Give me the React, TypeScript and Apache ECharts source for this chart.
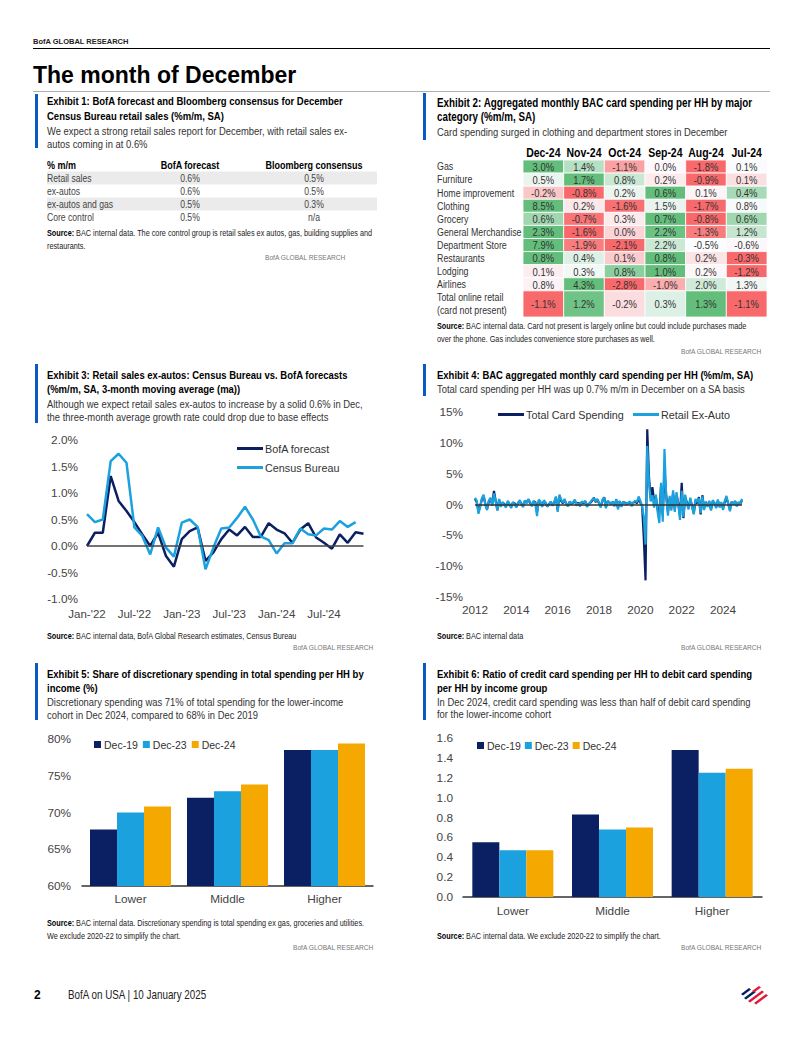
import React, { useEffect, useRef } from 'react';
import * as echarts from 'echarts';

const SANS = '"Liberation Sans", Arial, sans-serif';
const NAVY = '#0b2062';
const CYAN = '#1ba1de';
const AMBER = '#f5a800';
const ACCENT = '#0a5ac2';
const NARROW_SCALE = 0.82;

// ---------- Exhibit 1 ----------
const ex1Header = ['% m/m', 'BofA forecast', 'Bloomberg consensus'];
const ex1Rows = ['Retail sales', 'ex-autos', 'ex-autos and gas', 'Core control'];
const ex1Bofa = ['0.6%', '0.6%', '0.5%', '0.5%'];
const ex1Bloomberg = ['0.5%', '0.5%', '0.3%', 'n/a'];

// ---------- Exhibit 2 ----------
const heatCols = ['Dec-24', 'Nov-24', 'Oct-24', 'Sep-24', 'Aug-24', 'Jul-24'];
const heatRows = ['Gas', 'Furniture', 'Home improvement', 'Clothing', 'Grocery', 'General Merchandise',
  'Department Store', 'Restaurants', 'Lodging', 'Airlines', 'Total online retail'];
const heatRowLabels = ['Gas', 'Furniture', 'Home improvement', 'Clothing', 'Grocery', 'General Merchandise',
  'Department Store', 'Restaurants', 'Lodging', 'Airlines', 'Total online retail', '(card not present)'];
const heatValues = [
  [3.0, 1.4, -1.1, 0.0, -1.8, 0.1],
  [0.5, 1.7, 0.8, 0.2, -0.9, 0.1],
  [-0.2, -0.8, 0.2, 0.6, 0.1, 0.4],
  [8.5, 0.2, -1.6, 1.5, -1.7, 0.8],
  [0.6, -0.7, 0.3, 0.7, -0.8, 0.6],
  [2.3, -1.6, 0.0, 2.2, -1.3, 1.2],
  [7.9, -1.9, -2.1, 2.2, -0.5, -0.6],
  [0.8, 0.4, 0.1, 0.8, 0.2, -0.3],
  [0.1, 0.3, 0.8, 1.0, 0.2, -1.2],
  [0.8, 4.3, -2.8, -1.0, 2.0, 1.3],
  [-1.1, 1.2, -0.2, 0.3, 1.3, -1.1],
];

// ---------- Exhibit 3 ----------
const ex3MonthNames = ['Jan', 'Feb', 'Mar', 'Apr', 'May', 'Jun', 'Jul', 'Aug', 'Sep', 'Oct', 'Nov', 'Dec'];
const ex3Years = ['22', '23', '24'];
const ex3Months: string[] = [];
ex3Years.forEach((y) => ex3MonthNames.forEach((m) => ex3Months.push(m + "-'" + y)));
const bofaForecast = [0.0, 0.25, 0.25, 1.32, 0.85, 0.66, 0.45, 0.22, 0.0, 0.25, -0.19, -0.39,
  0.13, 0.28, 0.35, -0.28, -0.12, 0.13, 0.31, 0.2, 0.36, 0.17, 0.17, 0.43,
  0.31, 0.24, 0.06, 0.31, 0.43, 0.16, 0.06, -0.05, 0.22, 0.06, 0.26, 0.23];
const censusBureau = [0.6, 0.45, 0.5, 1.6, 1.74, 1.57, 0.35, 0.19, -0.16, 0.35, -0.03, -0.2,
  0.44, 0.5, 0.36, -0.44, -0.03, 0.33, 0.35, 0.53, 0.74, 0.5, 0.18, 0.11,
  -0.14, 0.05, 0.05, 0.33, 0.22, 0.2, 0.33, 0.31, 0.47, 0.36, 0.45];

// ---------- Exhibit 4 ----------
const ex4Months: string[] = [];
for (let y = 2012; y <= 2024; y++) for (let m = 1; m <= 12; m++) ex4Months.push(y + '-' + (m < 10 ? '0' + m : m));
const totalCard = [
  0.9, 0.4, -1.1, -0.2, 0.8, 1.4, 0.1, -0.7, 0.4, 1.0, 0.0, 2.2,
  0.6, -0.9, 0.7, -0.2, 0.3, 0.1, -0.3, 0.4, 0.0, -0.4, 0.3, 0.2,
  -0.3, 0.2, 0.5, 0.1, -0.2, 0.6, 0.3, 0.8, 0.2, -0.1, 0.5, 0.4,
  -1.2, 0.6, 0.3, -0.2, 0.5, 0.2, -0.3, 0.1, 0.4, -0.1, 0.3, 1.1,
  -0.9, 1.4, 0.6, 0.2, 0.7, 0.1, -0.2, 0.4, 0.1, 0.3, 0.6, -0.1,
  0.3, -0.1, 0.4, 0.2, 0.5, -0.2, 0.1, 0.3, 0.6, 1.1, 0.4, 0.8,
  0.2, -0.3, 0.6, 1.2, -0.4, 0.5, 0.3, 0.1, 0.4, -0.2, 0.7, -0.5,
  0.5, -0.2, 0.4, 0.3, 0.1, 0.2, 0.4, -0.1, 0.3, 0.5, 0.2, 1.0,
  0.3, -0.2, -5.5, -12.3, 12.2, 4.5, 1.0, 2.8, 0.5, 1.2, -0.8, -1.5,
  3.0, -1.8, 5.5, 1.5, -1.2, 1.0, -0.5, 1.8, -0.8, 1.5, 0.2, -1.8,
  3.5, -2.2, 1.2, 0.3, -0.5, 0.8, -0.2, -1.4, 0.6, 0.2, 1.2, -1.6,
  1.5, -0.6, 0.3, -0.2, 0.4, -0.8, 0.5, 0.2, -0.4, 0.6, -0.3, 0.2,
  -0.6, 0.4, 1.0, 0.2, -0.8, 0.4, 0.1, 0.5, -0.2, 0.3, 0.1, 0.7,
];
const retailExAuto = [
  1.1, 0.6, -1.5, -0.4, 1.0, 1.6, -0.1, -0.9, 0.6, 1.1, -0.2, 1.8,
  0.5, -1.0, 0.9, -0.4, 0.4, -0.1, -0.5, 0.6, 0.1, -0.6, 0.4, 0.0,
  -0.5, 0.3, 0.7, -0.1, -0.4, 0.7, 0.2, 0.9, 0.4, -0.3, 0.6, 0.2,
  -1.9, 0.8, 0.5, -0.4, 0.7, 0.3, -0.4, 0.0, 0.5, -0.2, 0.4, 1.3,
  -1.2, 1.6, 0.8, 0.3, 0.9, 0.0, -0.3, 0.5, 0.2, 0.4, 0.8, -0.2,
  0.2, -0.3, 0.5, 0.3, 0.6, -0.4, 0.0, 0.4, 0.8, 1.0, 0.5, 0.9,
  0.3, -0.5, 0.8, 1.1, -0.6, 0.6, 0.4, 0.0, 0.5, -0.3, 0.9, -0.8,
  0.6, -0.4, 0.5, 0.2, 0.0, 0.3, 0.5, -0.3, 0.4, 0.6, 0.4, 1.3,
  0.6, -0.3, -2.0, -6.5, 9.5, 3.5, 0.5, 1.5, -0.5, 1.6, -1.2, -3.0,
  3.5, -2.8, 9.0, 1.2, -1.8, 1.4, -1.0, 2.3, -1.2, 2.0, 0.0, -2.5,
  2.2, -2.0, 1.6, 0.1, -0.8, 1.1, -0.4, -1.6, 0.9, 0.4, 1.0, -1.4,
  1.3, -0.9, 0.5, -0.4, 0.6, -1.0, 0.7, 0.3, -0.6, 0.8, -0.5, 0.4,
  -0.9, 0.6, 1.4, 0.1, -1.1, 0.5, 0.0, 0.6, -0.3, 0.4, 0.2, 0.9,
];

// ---------- Exhibits 5 & 6 ----------
const incomeGroups = ['Lower', 'Middle', 'Higher'];
const periods = ['Dec-19', 'Dec-23', 'Dec-24'];
const discShare = [
  [67.7, 72.0, 78.5],
  [70.0, 72.9, 78.5],
  [70.8, 73.8, 79.4],
];
const creditDebitRatio = [
  [0.55, 0.83, 1.48],
  [0.47, 0.68, 1.25],
  [0.47, 0.70, 1.29],
];
const barColors = [NAVY, CYAN, AMBER];

// ---------- helpers ----------
function rowScores(vals: number[]) {
  const s = [...vals].sort((a, b) => a - b);
  const n = s.length;
  const med = n % 2 ? s[(n - 1) / 2] : (s[n / 2 - 1] + s[n / 2]) / 2;
  const mn = s[0], mx = s[n - 1];
  return vals.map((v) => (v >= med ? (mx > med ? (v - med) / (mx - med) : 0) : -(med - v) / (med - mn)));
}

let gid = 0;
function txt(text: string, x: number, y: number, o: any = {}) {
  gid += 1;
  return {
    type: 'text', id: 't' + gid, x, y, silent: true,
    scaleX: o.sx !== undefined ? o.sx : NARROW_SCALE,
    style: {
      text,
      fill: o.fill || '#222',
      fontFamily: SANS,
      fontSize: o.size || 11,
      fontWeight: o.weight || 'normal',
      align: o.align || 'left',
      verticalAlign: 'middle',
    },
  };
}

function sourceTxt(text: string, x: number, y: number) {
  gid += 1;
  return {
    type: 'text', id: 's' + gid, x, y, silent: true, scaleX: NARROW_SCALE,
    style: {
      text,
      fill: '#222',
      fontFamily: SANS,
      fontSize: 8.9,
      verticalAlign: 'middle',
      rich: { b: { fontWeight: 'bold', fontFamily: SANS, fontSize: 8.9, fill: '#000' } },
    },
  };
}

function brand(xLeft: number, y: number) {
  return txt('BofA GLOBAL RESEARCH', xLeft, y, { size: 6.6, fill: '#777', align: 'left', sx: 1 });
}

function accent(x: number, y: number, h: number) {
  return { type: 'rect', silent: true, shape: { x, y, width: 3, height: h }, style: { fill: ACCENT } };
}

function buildGraphics() {
  const g: any[] = [];
  // header
  g.push(txt('BofA GLOBAL RESEARCH', 33, 41, { size: 7.5, weight: 'bold', fill: '#222', sx: 1 }));
  g.push({ type: 'line', silent: true, shape: { x1: 33, y1: 48.5, x2: 770, y2: 48.5 }, style: { stroke: '#000', lineWidth: 1 } });
  g.push(txt('The month of December', 33, 75, { size: 23, weight: 'bold', fill: '#000', sx: 1 }));
  g.push({ type: 'line', silent: true, shape: { x1: 33, y1: 91.5, x2: 770, y2: 91.5 }, style: { stroke: '#b0b0b0', lineWidth: 1 } });

  const T = { size: 11.6, weight: 'bold', fill: '#000' };
  const S = { size: 11.5, fill: '#333' };

  // Exhibit 1
  g.push(accent(35, 94, 54));
  g.push(txt('Exhibit 1: BofA forecast and Bloomberg consensus for December', 47, 101, T));
  g.push(txt('Census Bureau retail sales (%m/m, SA)', 47, 115.5, T));
  g.push(txt('We expect a strong retail sales report for December, with retail sales ex-', 47, 130.5, S));
  g.push(txt('autos coming in at 0.6%', 47, 144, S));
  const colX = [47, 190, 314];
  ex1Rows.forEach((r, i) => {
    const y = 178 + i * 13;
    if (i % 2 === 0) g.push({ type: 'rect', silent: true, shape: { x: 47, y: y - 6.5, width: 330, height: 13 }, style: { fill: '#ebebeb' } });
  });
  g.push(txt(ex1Header[0], colX[0], 165, { size: 11, weight: 'bold', fill: '#000' }));
  g.push(txt(ex1Header[1], colX[1], 165, { size: 11, weight: 'bold', fill: '#000', align: 'center' }));
  g.push(txt(ex1Header[2], colX[2], 165, { size: 11, weight: 'bold', fill: '#000', align: 'center' }));
  ex1Rows.forEach((r, i) => {
    const y = 178 + i * 13;
    g.push(txt(r, colX[0], y, { size: 10.5, fill: '#444' }));
    g.push(txt(ex1Bofa[i], colX[1], y, { size: 10.5, fill: '#444', align: 'center' }));
    g.push(txt(ex1Bloomberg[i], colX[2], y, { size: 10.5, fill: '#444', align: 'center' }));
  });
  g.push(sourceTxt('{b|Source:} BAC internal data. The core control group is retail sales ex autos, gas, building supplies and', 47, 233.5));
  g.push(sourceTxt('restaurants.', 47, 246));
  g.push(brand(265, 257.5));

  // Exhibit 2
  g.push(accent(423, 93, 47));
  g.push(txt('Exhibit 2: Aggregated monthly BAC card spending per HH by major', 437, 103, { ...T, size: 12 }));
  g.push(txt('category (%m/m, SA)', 437, 117, { ...T, size: 12 }));
  g.push(txt('Card spending surged in clothing and department stores in December', 437, 131.5, S));
  g.push(sourceTxt('{b|Source:} BAC internal data. Card not present is largely online but could include purchases made', 437, 326.5));
  g.push(sourceTxt('over the phone. Gas includes convenience store purchases as well.', 437, 339));
  g.push(brand(681, 351));

  // Exhibit 3
  g.push(accent(35, 364, 59));
  g.push(txt('Exhibit 3: Retail sales ex-autos: Census Bureau vs. BofA forecasts', 47, 375, T));
  g.push(txt('(%m/m, SA, 3-month moving average (ma))', 47, 389, T));
  g.push(txt('Although we expect retail sales ex-autos to increase by a solid 0.6% in Dec,', 47, 403.5, S));
  g.push(txt('the three-month average growth rate could drop due to base effects', 47, 417, S));
  g.push(sourceTxt('{b|Source:} BAC internal data, BofA Global Research estimates, Census Bureau', 47, 636.5));
  g.push(brand(293, 647.5));

  // Exhibit 4
  g.push(accent(423, 364, 32));
  g.push(txt('Exhibit 4: BAC aggregated monthly card spending per HH (%m/m, SA)', 437, 375, T));
  g.push(txt('Total card spending per HH was up 0.7% m/m in December on a SA basis', 437, 389, S));
  g.push(sourceTxt('{b|Source:} BAC internal data', 437, 636.5));
  g.push(brand(681, 647.5));

  // Exhibit 5
  g.push(accent(35, 663, 57));
  g.push(txt('Exhibit 5: Share of discretionary spending in total spending per HH by', 47, 674, T));
  g.push(txt('income (%)', 47, 688, T));
  g.push(txt('Discretionary spending was 71% of total spending for the lower-income', 47, 702, S));
  g.push(txt('cohort in Dec 2024, compared to 68% in Dec 2019', 47, 714.5, S));
  g.push(sourceTxt('{b|Source:} BAC internal data. Discretionary spending is total spending ex gas, groceries and utilities.', 47, 923.5));
  g.push(sourceTxt('We exclude 2020-22 to simplify the chart.', 47, 936));
  g.push(brand(293, 947));

  // Exhibit 6
  g.push(accent(423, 663, 57));
  g.push(txt('Exhibit 6: Ratio of credit card spending per HH to debit card spending', 437, 673.5, T));
  g.push(txt('per HH by income group', 437, 687.5, T));
  g.push(txt('In Dec 2024, credit card spending was less than half of debit card spending', 437, 701.5, S));
  g.push(txt('for the lower-income cohort', 437, 714, S));
  g.push(sourceTxt('{b|Source:} BAC internal data. We exclude 2020-22 to simplify the chart.', 437, 936));
  g.push(brand(681, 947));

  // footer
  g.push(txt('2', 34, 995, { size: 12, weight: 'bold', fill: '#000', sx: 1 }));
  g.push(txt('BofA on USA | 10 January 2025', 68, 995, { size: 12, fill: '#222' }));
  const navyStripes = [
    [[741, 994], [749, 988], [751, 989.5], [743, 995.5]],
    [[744, 998], [754, 990.5], [756, 992], [746, 999.5]],
  ];
  const redStripes = [
    [[752, 991], [759, 986], [761, 987.5], [754, 992.5]],
    [[748, 1001], [762, 990.5], [764, 992], [750, 1002.5]],
    [[754, 1003], [766, 994], [768, 995.5], [756, 1004.5]],
  ];
  navyStripes.forEach((p) => g.push({ type: 'polygon', silent: true, shape: { points: p }, style: { fill: '#012169' } }));
  redStripes.forEach((p) => g.push({ type: 'polygon', silent: true, shape: { points: p }, style: { fill: '#e31837' } }));
  return g;
}

const axisText = { fontFamily: SANS, fontSize: 11.8, color: '#444' };

function buildOption() {
  const heatData: any[] = [];
  heatValues.forEach((row, ri) => {
    const sc = rowScores(row);
    row.forEach((v, ci) => heatData.push([ci, ri, ri === heatRows.length - 1 ? 2 : 1, v, sc[ci]]));
  });

  const grids = [
    { left: 523, top: 160, width: 244, height: 157 },
    { left: 87, top: 440, width: 276.5, height: 159 },
    { left: 475, top: 412, width: 267, height: 185 },
    { left: 82, top: 739, width: 291, height: 147 },
    { left: 463, top: 738, width: 299, height: 159 },
  ];

  const xAxis = [
    {
      gridIndex: 0, type: 'category', position: 'top', data: heatCols,
      axisLine: { show: false }, axisTick: { show: false }, axisLabel: { show: false },
    },
    {
      gridIndex: 1, type: 'category', data: ex3Months, boundaryGap: false,
      axisLine: { show: false, onZero: false }, axisTick: { show: false },
      axisLabel: { ...axisText, fontSize: 11.5, interval: 5, margin: 9 },
    },
    {
      gridIndex: 2, type: 'category', data: ex4Months, boundaryGap: false,
      axisLine: { show: false, onZero: false }, axisTick: { show: false },
      axisLabel: { ...axisText, interval: (i: number) => i % 24 === 0, formatter: (v: string) => v.slice(0, 4), margin: 7 },
    },
    {
      gridIndex: 3, type: 'category', data: incomeGroups,
      axisLine: { show: true, lineStyle: { color: '#333', width: 1.5 } }, axisTick: { show: false },
      axisLabel: { ...axisText, margin: 7 },
    },
    {
      gridIndex: 4, type: 'category', data: incomeGroups,
      axisLine: { show: true, lineStyle: { color: '#333', width: 1.5 } }, axisTick: { show: false },
      axisLabel: { ...axisText, margin: 8 },
    },
  ];

  const yAxis = [
    {
      gridIndex: 0, type: 'category', data: heatRowLabels, inverse: true,
      axisLine: { show: false }, axisTick: { show: false }, axisLabel: { show: false },
    },
    {
      gridIndex: 1, type: 'value', min: -1, max: 2, interval: 0.5,
      splitLine: { show: false }, axisLine: { show: false }, axisTick: { show: false },
      axisLabel: { ...axisText, margin: 9, formatter: (v: number) => v.toFixed(1) + '%' },
    },
    {
      gridIndex: 2, type: 'value', min: -15, max: 15, interval: 5,
      splitLine: { show: false }, axisLine: { show: false }, axisTick: { show: false },
      axisLabel: { ...axisText, margin: 12, formatter: (v: number) => v + '%' },
    },
    {
      gridIndex: 3, type: 'value', min: 60, max: 80, interval: 5,
      splitLine: { show: false }, axisLine: { show: false }, axisTick: { show: false },
      axisLabel: { ...axisText, margin: 11, formatter: (v: number) => v + '%' },
    },
    {
      gridIndex: 4, type: 'value', min: 0, max: 1.6, interval: 0.2,
      splitLine: { show: false }, axisLine: { show: false }, axisTick: { show: false },
      axisLabel: { ...axisText, margin: 10, formatter: (v: number) => v.toFixed(1) },
    },
  ];

  const zeroLine = (color: string) => ({
    silent: true, symbol: 'none', label: { show: false },
    lineStyle: { color, width: 1.5, type: 'solid' },
    data: [{ yAxis: 0 }],
  });

  const series: any[] = [
    {
      type: 'custom', name: 'heat', coordinateSystem: 'cartesian2d', xAxisIndex: 0, yAxisIndex: 0,
      encode: { x: 0, y: 1 },
      data: heatData,
      clip: false,
      renderItem: (params: any, api: any) => {
        const ci = api.value(0), ri = api.value(1), span = api.value(2), v = api.value(3);
        const c = api.coord([ci, ri]);
        const sz = api.size([1, 1]);
        const w = sz[0], h = sz[1];
        const x0 = c[0] - w / 2, y0 = c[1] - h / 2;
        const children: any[] = [
          { type: 'rect', shape: { x: x0, y: y0, width: w, height: h * span }, style: { fill: api.visual('color'), stroke: '#fff', lineWidth: 0.8 } },
          {
            type: 'text', x: c[0], y: y0 + (h * span) / 2, scaleX: NARROW_SCALE,
            style: { text: v.toFixed(1) + '%', align: 'center', verticalAlign: 'middle', fontFamily: SANS, fontSize: 11.5, fill: '#333' },
          },
        ];
        if (ri === 0) {
          children.push({
            type: 'text', x: c[0], y: y0 - 7.5, scaleX: NARROW_SCALE,
            style: { text: heatCols[ci], align: 'center', verticalAlign: 'middle', fontFamily: SANS, fontSize: 12.8, fontWeight: 'bold', fill: '#000' },
          });
        }
        if (ci === 0) {
          const lx = params.coordSys.x - 86;
          for (let k = 0; k < span; k++) {
            children.push({
              type: 'text', x: lx, y: api.coord([0, ri + k])[1], scaleX: NARROW_SCALE,
              style: { text: heatRowLabels[ri + k], align: 'left', verticalAlign: 'middle', fontFamily: SANS, fontSize: 10.8, fill: '#333' },
            });
          }
        }
        return { type: 'group', children };
      },
    },
    {
      type: 'line', name: 'BofA forecast', xAxisIndex: 1, yAxisIndex: 1, data: bofaForecast,
      symbol: 'none', lineStyle: { color: NAVY, width: 2.5 }, itemStyle: { color: NAVY },
      markLine: zeroLine('#444'),
    },
    {
      type: 'line', name: 'Census Bureau', xAxisIndex: 1, yAxisIndex: 1, data: censusBureau,
      symbol: 'none', lineStyle: { color: CYAN, width: 2.5 }, itemStyle: { color: CYAN },
    },
    {
      type: 'line', name: 'Total Card Spending', xAxisIndex: 2, yAxisIndex: 2, data: totalCard,
      symbol: 'none', lineStyle: { color: NAVY, width: 2.2 }, itemStyle: { color: NAVY },
      markLine: zeroLine('#333'),
    },
    {
      type: 'line', name: 'Retail Ex-Auto', xAxisIndex: 2, yAxisIndex: 2, data: retailExAuto,
      symbol: 'none', lineStyle: { color: CYAN, width: 2.2 }, itemStyle: { color: CYAN },
    },
  ];
  periods.forEach((p, i) => {
    series.push({
      type: 'bar', name: p, xAxisIndex: 3, yAxisIndex: 3, data: discShare[i],
      barWidth: 27, barGap: '0%', itemStyle: { color: barColors[i] },
    });
  });
  periods.forEach((p, i) => {
    series.push({
      type: 'bar', name: p, xAxisIndex: 4, yAxisIndex: 4, data: creditDebitRatio[i],
      barWidth: 27, barGap: '0%', itemStyle: { color: barColors[i] },
    });
  });

  const legendText = { fontFamily: SANS, fontSize: 10.8, color: '#333', padding: [0, 0, 0, -3] };
  const lineLegend = { padding: 0, itemWidth: 26, itemHeight: 3, icon: 'rect', textStyle: legendText, selectedMode: false };
  const barLegend = { orient: 'horizontal', padding: 0, itemWidth: 7, itemHeight: 7, icon: 'rect', textStyle: { ...legendText, fontSize: 10.5, padding: [0, 0, 0, -2] }, selectedMode: false };
  const legend = [
    { ...lineLegend, orient: 'vertical', left: 237, top: 443, itemGap: 8, data: ['BofA forecast', 'Census Bureau'] },
    { ...lineLegend, left: 498, top: 409, data: ['Total Card Spending'] },
    { ...lineLegend, left: 633, top: 409, data: ['Retail Ex-Auto'] },
    { ...barLegend, left: 94, top: 739, itemGap: 5, data: periods },
    { ...barLegend, left: 477, top: 740, itemGap: 4, data: periods },
  ];

  return {
    animation: false,
    backgroundColor: '#fff',
    textStyle: { fontFamily: SANS },
    grid: grids,
    xAxis,
    yAxis,
    legend,
    visualMap: [{
      type: 'continuous', show: false, seriesIndex: 0, dimension: 4, min: -1, max: 1,
      inRange: { color: ['#F8696B', '#FCFCFF', '#63BE7B'] },
    }],
    series,
    graphic: buildGraphics(),
  };
}

export default function App() {
  const ref = useRef<HTMLDivElement>(null);
  useEffect(() => {
    document.body.style.margin = '0';
    gid = 0;
    const chart = echarts.init(ref.current!, undefined, { renderer: 'svg' });
    chart.setOption(buildOption() as any);
    return () => chart.dispose();
  }, []);
  return <div ref={ref} style={{ position: 'absolute', left: 0, top: 0, width: 802, height: 1037, background: '#fff' }} />;
}
